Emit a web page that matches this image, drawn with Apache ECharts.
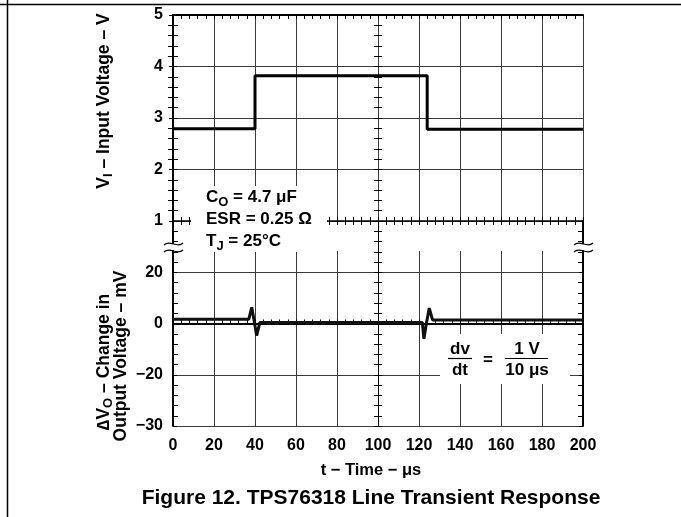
<!DOCTYPE html>
<html>
<head>
<meta charset="utf-8">
<script src="https://cdn.jsdelivr.net/npm/echarts@6/dist/echarts.min.js"></script>
<style>
html,body{margin:0;padding:0;background:#fff;}
#c{width:681px;height:517px;}
</style>
</head>
<body>
<div id="c"></div>
<script>
// ---- data ----
const timeTop = [0, 40, 40, 124, 124, 200];
const inputVoltage = [2.79, 2.79, 3.82, 3.82, 2.78, 2.78];
const timeBottom = [0, 37, 38.4, 39.6, 40.8, 42.4, 121.6, 122.4, 123.6, 125, 126.6, 200];
const deltaVo = [1.7, 1.7, 6.3, 1.0, -4.7, 0.4, 0.4, -6.0, 0.0, 6.0, 1.4, 1.4];
const xTickLabels = ['0','20','40','60','80','100','120','140','160','180','200'];
const yTopTickLabels = ['1','2','3','4','5'];
const yBottomTickValues = [-40, -20, 0, 20, 40];
const yBottomTickLabels = ['\u221230', '\u221220', '0', '20', ''];

const FONT = '"Liberation Sans", Arial, sans-serif';
const AX = {color: '#000', width: 2};
const GRIDLINE = {color: '#3a3a3a', width: 1};

const chart = echarts.init(document.getElementById('c'), null, {renderer: 'canvas'});

function hiddenAxisParts() {
  return {axisLabel: {show: false}, axisTick: {show: false}, splitLine: {show: false}, minorTick: {show: false}, axisLine: {show: false}};
}

const xBase = {type: 'value', min: 0, max: 200, interval: 20};
const yTopBase = {type: 'value', min: 1, max: 5, interval: 1, gridIndex: 0};
const yBotBase = {type: 'value', min: -40, max: 40, interval: 20, gridIndex: 1};
const TICK = {color: '#000', width: 1};

const option = {
  backgroundColor: '#fff',
  animation: false,
  grid: [
    {left: 173, right: 98, top: 15, height: 206},
    {left: 173, right: 98, top: 221, height: 205},
    {left: 173, right: 98, top: 251, height: 175}
  ],
  xAxis: [
    Object.assign({}, xBase, hiddenAxisParts(), {gridIndex: 0, position: 'bottom',
      axisLine: {show: true, lineStyle: {color: '#000', width: 1.5}},
      splitLine: {show: true, lineStyle: GRIDLINE}}),
    Object.assign({}, xBase, hiddenAxisParts(), {gridIndex: 0, position: 'top',
      axisLine: {show: true, lineStyle: AX},
      axisTick: {show: true, inside: true, length: 4, lineStyle: TICK},
      minorTick: {show: true, splitNumber: 5, length: 4, lineStyle: TICK}}),
    Object.assign({}, xBase, hiddenAxisParts(), {gridIndex: 0, position: 'bottom', offset: 4,
      axisTick: {show: true, inside: true, length: 8, lineStyle: TICK},
      minorTick: {show: true, splitNumber: 5, length: 8, lineStyle: TICK}}),
    Object.assign({}, xBase, hiddenAxisParts(), {gridIndex: 1, position: 'bottom',
      axisLine: {show: true, lineStyle: AX},
      axisTick: {show: true, inside: true, length: 4, lineStyle: TICK},
      minorTick: {show: true, splitNumber: 5, length: 4, lineStyle: TICK},
      axisLabel: {show: true, margin: 12, color: '#000', fontFamily: FONT, fontWeight: 'bold', fontSize: 16,
        formatter: function (v) { return xTickLabels[Math.round(v / 20)]; }}}),
    Object.assign({}, xBase, hiddenAxisParts(), {gridIndex: 2,
      splitLine: {show: true, lineStyle: GRIDLINE}})
  ],
  yAxis: [
    Object.assign({}, yTopBase, hiddenAxisParts(), {position: 'left',
      axisLine: {show: true, lineStyle: AX},
      axisTick: {show: true, inside: true, length: 4, lineStyle: TICK},
      minorTick: {show: true, splitNumber: 5, length: 5, lineStyle: TICK},
      splitLine: {show: true, lineStyle: GRIDLINE},
      axisLabel: {show: true, margin: 10, color: '#000', fontFamily: FONT, fontWeight: 'bold', fontSize: 16,
        formatter: function (v) { return yTopTickLabels[Math.round(v) - 1]; }}}),
    Object.assign({}, yTopBase, hiddenAxisParts(), {position: 'right',
      axisLine: {show: true, lineStyle: AX},
      axisTick: {show: true, inside: true, length: 4, lineStyle: TICK},
      minorTick: {show: true, splitNumber: 5, length: 5, lineStyle: TICK}}),
    Object.assign({}, yTopBase, hiddenAxisParts(), {position: 'left', offset: -201,
      axisTick: {show: true, inside: true, length: 8, lineStyle: TICK},
      minorTick: {show: true, splitNumber: 5, length: 8, lineStyle: TICK}}),
    Object.assign({}, yBotBase, hiddenAxisParts(), {position: 'left',
      axisLine: {show: true, lineStyle: AX},
      axisTick: {show: true, inside: true, length: 4, lineStyle: TICK},
      minorTick: {show: true, splitNumber: 5, length: 5, lineStyle: TICK},
      splitLine: {show: true, lineStyle: GRIDLINE},
      axisLabel: {show: true, margin: 10, color: '#000', fontFamily: FONT, fontWeight: 'bold', fontSize: 16,
        formatter: function (v) { const i = yBottomTickValues.indexOf(Math.round(v)); return i >= 0 ? yBottomTickLabels[i] : ''; }}}),
    Object.assign({}, yBotBase, hiddenAxisParts(), {position: 'right',
      axisLine: {show: true, lineStyle: AX},
      axisTick: {show: true, inside: true, length: 4, lineStyle: TICK},
      minorTick: {show: true, splitNumber: 5, length: 5, lineStyle: TICK}}),
    Object.assign({}, yBotBase, hiddenAxisParts(), {position: 'left', offset: -205,
      axisLine: {show: true, lineStyle: {color: '#000', width: 1}}}),
    Object.assign({}, yBotBase, hiddenAxisParts(), {position: 'left', offset: -201,
      axisTick: {show: true, inside: true, length: 8, lineStyle: TICK},
      minorTick: {show: true, splitNumber: 5, length: 8, lineStyle: TICK}}),
    {type: 'value', gridIndex: 2, min: 0, max: 1, show: false}
  ],
  series: [
    {type: 'line', xAxisIndex: 0, yAxisIndex: 0, symbol: 'none', z: 3,
      lineStyle: {color: '#000', width: 3}, data: timeTop.map((t, i) => [t, inputVoltage[i]])},
    {type: 'line', xAxisIndex: 3, yAxisIndex: 3, symbol: 'none', z: 3,
      lineStyle: {color: '#111', width: 3}, data: timeBottom.map((t, i) => [t, deltaVo[i]])}
  ],
  graphic: [
    {type: 'line', z: 10, shape: {x1: 7.5, y1: 0, x2: 7.5, y2: 517}, style: {stroke: '#000', lineWidth: 1.5}},
    {type: 'line', z: 10, shape: {x1: 0, y1: 4.5, x2: 681, y2: 4.5}, style: {stroke: '#000', lineWidth: 1.5}},
    {type: 'rect', z: 10, shape: {x: 164, y: 244, width: 20, height: 6}, style: {fill: '#fff'}},
    {type: 'rect', z: 10, shape: {x: 574, y: 244, width: 20, height: 6}, style: {fill: '#fff'}},
    {type: 'bezierCurve', z: 11, shape: {x1: 164, y1: 245, x2: 183, y2: 243, cpx1: 170, cpy1: 239, cpx2: 177, cpy2: 249}, style: {stroke: '#000', lineWidth: 1.2, fill: null}},
    {type: 'bezierCurve', z: 11, shape: {x1: 164, y1: 252, x2: 183, y2: 250, cpx1: 170, cpy1: 246, cpx2: 177, cpy2: 256}, style: {stroke: '#000', lineWidth: 1.2, fill: null}},
    {type: 'bezierCurve', z: 11, shape: {x1: 574, y1: 245, x2: 593, y2: 243, cpx1: 580, cpy1: 239, cpx2: 587, cpy2: 249}, style: {stroke: '#000', lineWidth: 1.2, fill: null}},
    {type: 'bezierCurve', z: 11, shape: {x1: 574, y1: 252, x2: 593, y2: 250, cpx1: 580, cpy1: 246, cpx2: 587, cpy2: 256}, style: {stroke: '#000', lineWidth: 1.2, fill: null}},
    {type: 'rect', z: 10, shape: {x: 191, y: 186, width: 136, height: 66}, style: {fill: '#fff'}},
    {type: 'text', z: 11, x: 206, y: 197, style: {text: '{b|C}{s|O}{b| = 4.7 \u03bcF}', verticalAlign: 'middle', align: 'left',
      rich: {b: {fontFamily: FONT, fontWeight: 'bold', fontSize: 17, fill: '#000', lineHeight: 23}, s: {fontFamily: FONT, fontWeight: 'bold', fontSize: 13, fill: '#000', lineHeight: 23, verticalAlign: 'bottom'}}}},
    {type: 'text', z: 11, x: 206, y: 219, style: {text: 'ESR = 0.25 \u03a9', verticalAlign: 'middle', align: 'left', fontFamily: FONT, fontWeight: 'bold', fontSize: 17, fill: '#000'}},
    {type: 'text', z: 11, x: 206, y: 241, style: {text: '{b|T}{s|J}{b| = 25\u00b0C}', verticalAlign: 'middle', align: 'left',
      rich: {b: {fontFamily: FONT, fontWeight: 'bold', fontSize: 17, fill: '#000', lineHeight: 23}, s: {fontFamily: FONT, fontWeight: 'bold', fontSize: 13, fill: '#000', lineHeight: 23, verticalAlign: 'bottom'}}}},
    {type: 'rect', z: 10, shape: {x: 440, y: 334, width: 130, height: 50}, style: {fill: '#fff'}},
    {type: 'text', z: 11, x: 460, y: 349, style: {text: 'dv', align: 'center', verticalAlign: 'middle', fontFamily: FONT, fontWeight: 'bold', fontSize: 17, fill: '#000'}},
    {type: 'text', z: 11, x: 460, y: 370, style: {text: 'dt', align: 'center', verticalAlign: 'middle', fontFamily: FONT, fontWeight: 'bold', fontSize: 17, fill: '#000'}},
    {type: 'line', z: 11, shape: {x1: 448, y1: 358.5, x2: 472, y2: 358.5}, style: {stroke: '#000', lineWidth: 1.2}},
    {type: 'text', z: 11, x: 488, y: 360, style: {text: '=', align: 'center', verticalAlign: 'middle', fontFamily: FONT, fontWeight: 'bold', fontSize: 17, fill: '#000'}},
    {type: 'text', z: 11, x: 527, y: 349, style: {text: '1 V', align: 'center', verticalAlign: 'middle', fontFamily: FONT, fontWeight: 'bold', fontSize: 17, fill: '#000'}},
    {type: 'text', z: 11, x: 527, y: 370, style: {text: '10 \u03bcs', align: 'center', verticalAlign: 'middle', fontFamily: FONT, fontWeight: 'bold', fontSize: 17, fill: '#000'}},
    {type: 'line', z: 11, shape: {x1: 505, y1: 358.5, x2: 548, y2: 358.5}, style: {stroke: '#000', lineWidth: 1.2}},
    {type: 'text', z: 11, x: 104, y: 101, rotation: Math.PI / 2, style: {text: '{b|V}{s|I}{b| \u2013 Input Voltage \u2013 V}', align: 'center', verticalAlign: 'middle',
      rich: {b: {fontFamily: FONT, fontWeight: 'bold', fontSize: 17.5, fill: '#000', lineHeight: 22}, s: {fontFamily: FONT, fontWeight: 'bold', fontSize: 13, fill: '#000', lineHeight: 22, verticalAlign: 'bottom'}}}},
    {type: 'text', z: 11, x: 104, y: 362, rotation: Math.PI / 2, style: {text: '{b|\u2206V}{s|O}{b| \u2013 Change in}', align: 'center', verticalAlign: 'middle',
      rich: {b: {fontFamily: FONT, fontWeight: 'bold', fontSize: 17.5, fill: '#000', lineHeight: 22}, s: {fontFamily: FONT, fontWeight: 'bold', fontSize: 13, fill: '#000', lineHeight: 22, verticalAlign: 'bottom'}}}},
    {type: 'text', z: 11, x: 121, y: 356, rotation: Math.PI / 2, style: {text: 'Output Voltage \u2013 mV', align: 'center', verticalAlign: 'middle', fontFamily: FONT, fontWeight: 'bold', fontSize: 17.5, fill: '#000'}},
    {type: 'text', z: 11, x: 371, y: 470, style: {text: 't \u2212 Time \u2212 \u03bcs', align: 'center', verticalAlign: 'middle', fontFamily: FONT, fontWeight: 'bold', fontSize: 16.5, fill: '#000'}},
    {type: 'text', z: 11, x: 371, y: 498, style: {text: 'Figure 12. TPS76318 Line Transient Response', align: 'center', verticalAlign: 'middle', fontFamily: FONT, fontWeight: 'bold', fontSize: 21, fill: '#000'}}
  ]
};
chart.setOption(option);
</script>
</body>
</html>
